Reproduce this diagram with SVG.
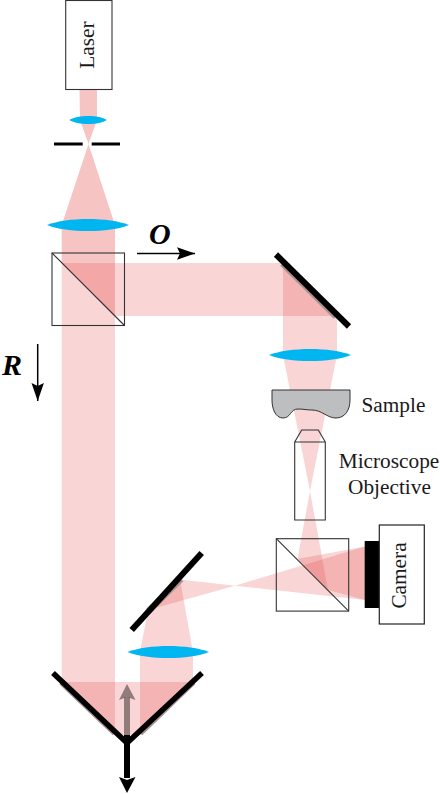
<svg xmlns="http://www.w3.org/2000/svg" width="440" height="794" viewBox="0 0 440 794">
<style>
.t{font-family:"Liberation Serif","Times New Roman",serif;font-size:21.300px;fill:#1a1a1a}
.b{font-family:"Liberation Serif","Times New Roman",serif;font-size:30px;font-weight:bold;font-style:italic;fill:#000}
.beam{fill:#e74b4b;fill-opacity:.23}
.strong{fill:#e74b4b;fill-opacity:.33}
.ln{fill:none;stroke:#333;stroke-width:1.100}
.lens{fill:#00b6f1}
.m{fill:none;stroke:#000;stroke-linecap:butt}
.edge{fill:none;stroke:#a89292;stroke-width:6.500}
</style>
<defs>
<marker id="ah" markerUnits="userSpaceOnUse" markerWidth="20" markerHeight="13" refX="18" refY="6.200" orient="auto"><path d="M0 0L18 6.200L0 12.400L3 6.200Z" fill="#000"/></marker>
</defs>
<g id="connectors">
<path class="strong" d="M79.500 89.500H97V120L88.500 144L80 120Z"/>
<path class="strong" d="M88.500 144L61.700 225V263L115 316V225Z"/>
<path class="beam" d="M61.700 263L115 316V682L61.700 682Z"/>
<path class="beam" d="M61.700 263H283L337 316H115Z"/>
<path class="beam" d="M283 263L337 316V355L310 491L283 355Z"/>
<path class="beam" d="M310 491L297.500 559L328 590Z"/>
<path class="beam" d="M297.500 559L328 590L365 600V546.500Z"/>
<path class="beam" d="M61.700 682L115 735V682Z"/>
<path class="beam" d="M61.700 682H193L140 735H115Z"/>
<path class="beam" d="M140 735L193 682V652L180 579.500L148 610L140 652Z"/>
<path class="beam" d="M148 610L180 579.500L235 585.700L365 546.500V600L235 585.700Z"/>
</g>
<g id="laser"><rect class="ln" x="65.700" y="0.500" width="46.300" height="89" style="fill:#fff"/><text class="t" transform="translate(94 45) rotate(-90)" text-anchor="middle">Laser</text></g>
<g id="lens1"><path class="lens" d="M69.300 120C78 114.700 99 114.700 106.700 120C99 125.300 78 125.300 69.300 120Z"/></g>
<g id="pinhole"><path class="m" stroke-width="3" d="M54 144H82.700M91.700 144H120"/></g>
<g id="lens2"><path class="lens" d="M47 225C67 217 109 217 129 225C109 233 67 233 47 225Z"/></g>
<g id="splitter1"><rect class="ln" x="52" y="253" width="72.500" height="72.500"/><path class="ln" d="M52 253L124.500 325.500"/></g>
<g id="mirror1"><path class="edge" d="M282.500 263.500L336 316.500"/><path class="m" stroke-width="6" d="M276 254.500L349 326.500"/></g>
<g id="lens3"><path class="lens" d="M269 355C289 347 331 347 351 355C331 363 289 363 269 355Z"/></g>
<g id="sample"><path d="M272 390H350V400C350 410 345 418 336 418C327 418 322 410 312 410C306 410 304 409 298 409C290 409 291 418 283 418C275 418 272 408 272 400Z" fill="#bcbec0" stroke="#333" stroke-width="1"/><text class="t" x="361.500" y="411.500">Sample</text></g>
<g id="objective"><path class="ln" d="M294.700 442H325.300V520H294.700ZM294.700 442L301.700 430H318.300L325.300 442"/><text class="t" x="389" y="468" text-anchor="middle">Microscope</text><text class="t" x="389.500" y="494" text-anchor="middle">Objective</text></g>
<g id="splitter2"><rect class="ln" x="276.300" y="538.700" width="72.400" height="72.400"/><path class="ln" d="M276.300 538.700L348.700 611.100"/></g>
<g id="camera"><rect x="364.700" y="541" width="14.600" height="67" fill="#000"/><rect x="379.300" y="525" width="45" height="99" fill="#fff" stroke="#222" stroke-width="1.200"/><text class="t" transform="translate(405.700 575.500) rotate(-90)" text-anchor="middle">Camera</text></g>
<g id="mirror2"><path class="edge" d="M148.500 611L181 579"/><path class="m" stroke-width="6" d="M131.700 630L201.700 553"/></g>
<g id="lens4"><path class="lens" d="M127.500 652C148 644 189 644 209 652C189 660 148 660 127.500 652Z"/></g>
<g id="retro"><path class="edge" d="M61.500 682L115 733M193 682L140 733"/><path class="m" stroke-width="5.500" d="M53 673L127 743L202 673"/></g>
<g id="arrows">
<path d="M127 778V735" stroke="#000" stroke-width="6" fill="none"/>
<path d="M119 777L127 780L135.500 777L127 793Z" fill="#000"/>
<path d="M127 735V697" stroke="#6f5c5c" stroke-opacity=".75" stroke-width="6" fill="none"/>
<path d="M119 700L127 684L135.500 700L127 697Z" fill="#6f5c5c" fill-opacity=".75"/>
<path d="M137 253.500H195" stroke="#000" stroke-width="1.500" marker-end="url(#ah)"/>
<text class="b" x="149" y="243.500">O</text>
<path d="M37.700 344V401" stroke="#000" stroke-width="1.500" marker-end="url(#ah)"/>
<text class="b" x="2" y="375">R</text>
</g>
</svg>
